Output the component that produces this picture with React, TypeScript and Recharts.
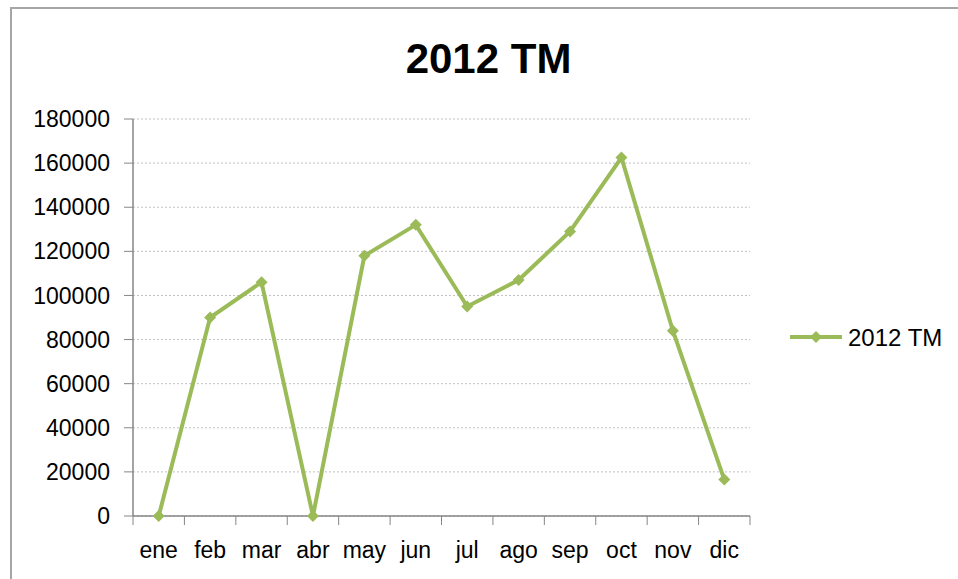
import React from "react";
import { LineChart, Line, XAxis, YAxis, CartesianGrid } from "recharts";

const months = ["ene", "feb", "mar", "abr", "may", "jun", "jul", "ago", "sep", "oct", "nov", "dic"];
const tm2012 = [0, 90000, 106000, 0, 118000, 132000, 95000, 107000, 129000, 162500, 84000, 16500];
const yTicks = [0, 20000, 40000, 60000, 80000, 100000, 120000, 140000, 160000, 180000];

const data = months.map((m, i) => ({ x: i + 0.5, month: m, value: tm2012[i] }));
const centerTicks = months.map((_, i) => i + 0.5);
const edgeTicks = [0, ...months.map((_, i) => i + 1)];

const green = "#9BBB59";
const axisGray = "#868686";
const font = "'Liberation Sans', Arial, sans-serif";

const Diamond = (props: any) => {
  const { cx, cy, index } = props;
  if (cx == null || cy == null) return <g key={index} />;
  const r = 6;
  return (
    <path
      key={index}
      d={`M${cx},${cy - r}L${cx + r},${cy}L${cx},${cy + r}L${cx - r},${cy}Z`}
      fill={green}
    />
  );
};

const LegendBox = () => (
  <svg width={170} height={30}>
    <line x1={2} y1={15} x2={54} y2={15} stroke={green} strokeWidth={4} />
    <path d="M28,9L34,15L28,21L22,15Z" fill={green} />
    <text x={60} y={15} dominantBaseline="central" fontSize={24} fontFamily={font} fill="#000">
      2012 TM
    </text>
  </svg>
);

export default function App() {
  return (
    <div
      style={{
        position: "absolute",
        left: 0,
        top: 0,
        width: 958,
        height: 579,
        overflow: "hidden",
        background: "#fff",
      }}
    >
      <div
        style={{
          position: "absolute",
          left: 10,
          top: 7,
          width: 1000,
          height: 700,
          borderLeft: "2px solid #a6a6a6",
          borderTop: "2px solid #a6a6a6",
        }}
      />
      <div
        style={{
          position: "absolute",
          left: 0,
          top: 38,
          width: 977,
          textAlign: "center",
          fontFamily: font,
          fontWeight: "bold",
          fontSize: 42,
          lineHeight: "42px",
          color: "#000",
        }}
      >
        2012 TM
      </div>
      <div style={{ position: "absolute", left: 0, top: 0 }}>
        <LineChart
          width={958}
          height={579}
          data={data}
          margin={{ top: 119, right: 208, bottom: 0, left: 0 }}
        >
          <CartesianGrid
            xAxisId="zlab"
            vertical={false}
            stroke="#c0c0c0"
            strokeDasharray="2 2"
          />
          {/* boundary tick marks between months */}
          <XAxis
            xAxisId="amarks"
            dataKey="x"
            type="number"
            domain={[0, 12]}
            allowDataOverflow
            ticks={edgeTicks}
            interval={0}
            tickFormatter={() => " "}
            tick={{ fontSize: 1, fill: "#fff" }}
            tickSize={9}
            tickMargin={0}
            height={1}
            stroke={axisGray}
            tickLine={{ stroke: axisGray }}
            axisLine={{ stroke: axisGray, strokeWidth: 1.5 }}
          />
          {/* month labels centred in each band */}
          <XAxis
            xAxisId="zlab"
            dataKey="x"
            type="number"
            domain={[0, 12]}
            allowDataOverflow
            ticks={centerTicks}
            tickFormatter={(v: number) => months[Math.floor(v)]}
            axisLine={false}
            tickLine={false}
            tickMargin={19}
            height={62}
            interval={0}
            tick={{ fill: "#000", fontSize: 23, fontFamily: font }}
          />
          <YAxis
            domain={[0, 180000]}
            ticks={yTicks}
            width={133}
            tickSize={9}
            tickMargin={14}
            interval={0}
            axisLine={{ stroke: axisGray, strokeWidth: 1.5 }}
            tickLine={{ stroke: axisGray }}
            tick={{ fill: "#000", fontSize: 23, fontFamily: font }}
          />
          <Line
            xAxisId="zlab"
            type="linear"
            dataKey="value"
            name="2012 TM"
            stroke={green}
            strokeWidth={4}
            dot={<Diamond />}
            activeDot={false}
            isAnimationActive={false}
          />
        </LineChart>
      </div>
      <div style={{ position: "absolute", left: 788, top: 322 }}>
        <LegendBox />
      </div>
    </div>
  );
}
